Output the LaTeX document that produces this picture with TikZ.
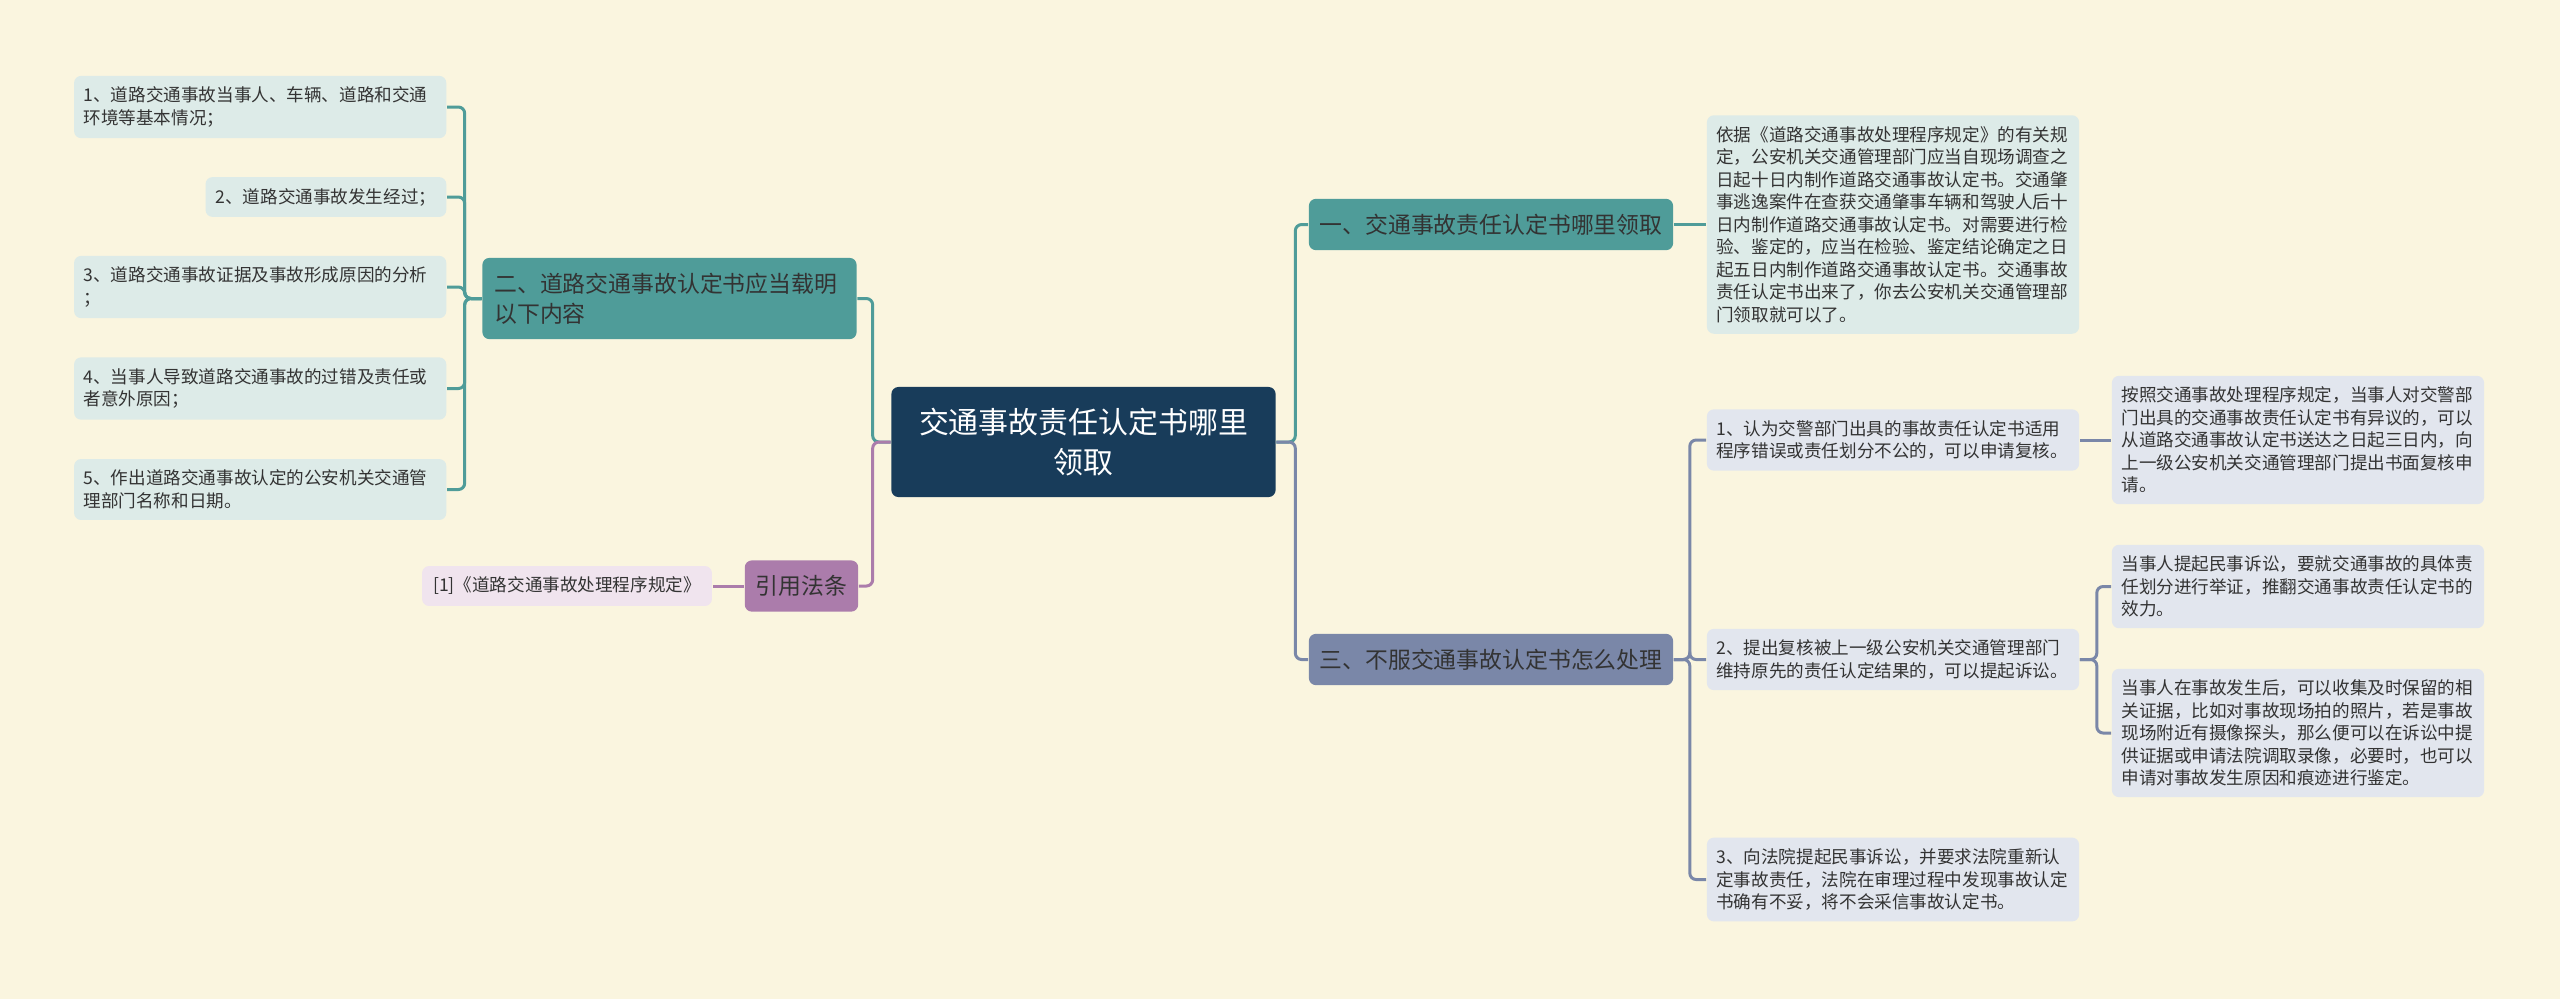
\documentclass[tikz,border=0pt]{standalone}
\usepackage{fontspec}
\setmainfont{Noto Sans CJK SC}
\usepackage{tikz}
\usetikzlibrary{positioning, calc}

\definecolor{bgcream}{HTML}{FAF5DF}
\definecolor{navy}{HTML}{183C5A}
\definecolor{tealdark}{HTML}{4F9C99}
\definecolor{tealpale}{HTML}{DDEBE8}
\definecolor{plum}{HTML}{AB7CAB}
\definecolor{plumpale}{HTML}{F0E4EE}
\definecolor{slate}{HTML}{7A87A8}
\definecolor{slatepale}{HTML}{E2E6EE}
\definecolor{ink}{HTML}{333333}

\begin{document}
\begin{tikzpicture}[
        x=0.01cm, y=-0.01cm,
        box/.style={
            rounded corners=2pt,
            text=ink,
            inner xsep=0.1cm,
            inner ysep=0.11cm
        },
        topic/.style={
            box, fill=navy, text=white, align=center,
            minimum width=3.84cm, minimum height=1.1cm,
            font=\fontsize{8.5pt}{11.4pt}\selectfont
        },
        branch/.style={
            box, inner ysep=0.15cm,
            font=\fontsize{6.5pt}{8.5pt}\selectfont
        },
        leaf/.style={
            box,
            font=\fontsize{5pt}{6.4pt}\selectfont
        },
        longleaf/.style={
            leaf, text width=3.53cm, align=left, inner xsep=0.095cm
        },
        link/.style={line width=0.85pt, rounded corners=1.8pt}
    ]

        % Background and page size
        \fill[bgcream] (0,0) rectangle (2560,999);
        \useasboundingbox (0,0) rectangle (2560,999);

        % Central topic
        \node[topic] (root) at (1083.5,442) {交通事故责任认定书哪里\\领取};

        % Left side: contents of the certificate
        \node[branch, fill=tealdark, text width=3.5cm, align=left, inner xsep=0.12cm] (contents) at (669.5,298.5) {二、道路交通事故认定书应当载明\\以下内容};
        \node[longleaf, fill=tealpale, anchor=east] (item1) at (447,107) {1、道路交通事故当事人、车辆、道路和交通\\环境等基本情况；};
        \node[leaf, fill=tealpale, anchor=east] (item2) at (447,197) {2、道路交通事故发生经过；};
        \node[longleaf, fill=tealpale, anchor=east] (item3) at (447,287) {3、道路交通事故证据及事故形成原因的分析\\；};
        \node[longleaf, fill=tealpale, anchor=east] (item4) at (447,388.5) {4、当事人导致道路交通事故的过错及责任或\\者意外原因；};
        \node[longleaf, fill=tealpale, anchor=east] (item5) at (447,489.5) {5、作出道路交通事故认定的公安机关交通管\\理部门名称和日期。};

        % Left side: cited rule
        \node[branch, fill=plum, inner xsep=0.11cm] (law) at (801.5,586) {引用法条};
        \node[leaf, fill=plumpale, inner xsep=0.11cm] (lawref) at (567,586) {[1]《道路交通事故处理程序规定》};

        % Right side: where to collect it
        \node[branch, fill=tealdark, minimum width=3.64cm] (where) at (1491,224.5) {一、交通事故责任认定书哪里领取};
        \node[longleaf, fill=tealpale] (whereinfo) at (1893,224.5) {依据《道路交通事故处理程序规定》的有关规\\定，公安机关交通管理部门应当自现场调查之\\日起十日内制作道路交通事故认定书。交通肇\\事逃逸案件在查获交通肇事车辆和驾驶人后十\\日内制作道路交通事故认定书。对需要进行检\\验、鉴定的，应当在检验、鉴定结论确定之日\\起五日内制作道路交通事故认定书。交通事故\\责任认定书出来了，你去公安机关交通管理部\\门领取就可以了。};

        % Right side: what to do when disagreeing
        \node[branch, fill=slate, minimum width=3.64cm] (dispute) at (1491,659.5) {三、不服交通事故认定书怎么处理};
        \node[longleaf, fill=slatepale] (step1) at (1893,440) {1、认为交警部门出具的事故责任认定书适用\\程序错误或责任划分不公的，可以申请复核。};
        \node[longleaf, fill=slatepale] (step1info) at (2298,440) {按照交通事故处理程序规定，当事人对交警部\\门出具的交通事故责任认定书有异议的，可以\\从道路交通事故认定书送达之日起三日内，向\\上一级公安机关交通管理部门提出书面复核申\\请。};
        \node[longleaf, fill=slatepale] (step2) at (1893,659.5) {2、提出复核被上一级公安机关交通管理部门\\维持原先的责任认定结果的，可以提起诉讼。};
        \node[longleaf, fill=slatepale] (suitA) at (2298,586.5) {当事人提起民事诉讼，要就交通事故的具体责\\任划分进行举证，推翻交通事故责任认定书的\\效力。};
        \node[longleaf, fill=slatepale] (suitB) at (2298,733) {当事人在事故发生后，可以收集及时保留的相\\关证据，比如对事故现场拍的照片，若是事故\\现场附近有摄像探头，那么便可以在诉讼中提\\供证据或申请法院调取录像，必要时，也可以\\申请对事故发生原因和痕迹进行鉴定。};
        \node[longleaf, fill=slatepale] (step3) at (1893,879.5) {3、向法院提起民事诉讼，并要求法院重新认\\定事故责任，法院在审理过程中发现事故认定\\书确有不妥，将不会采信事故认定书。};

        % Connectors
        \draw[link, tealdark] (root.west) -- ++(-18,0) |- (contents.east);
        \draw[link, plum] (root.west) -- ++(-18,0) |- (law.east);
        \draw[link, tealdark] (root.east) -- ++(19,0) |- (where.west);
        \draw[link, slate] (root.east) -- ++(19,0) |- (dispute.west);
        \foreach \i in {1,...,5}
            \draw[link, tealdark] (contents.west) -- ++(-17,0) |- (item\i.east);
        \draw[link, plum] (law.west) -- (lawref.east);
        \draw[link, tealdark] (where.east) -- (whereinfo.west);
        \foreach \n in {step1,step2,step3}
            \draw[link, slate] (dispute.east) -- ++(16,0) |- (\n.west);
        \draw[link, slate] (step1.east) -- (step1info.west);
        \foreach \n in {suitA,suitB}
            \draw[link, slate] (step2.east) -- ++(17,0) |- (\n.west);

    \end{tikzpicture}
\end{document}
